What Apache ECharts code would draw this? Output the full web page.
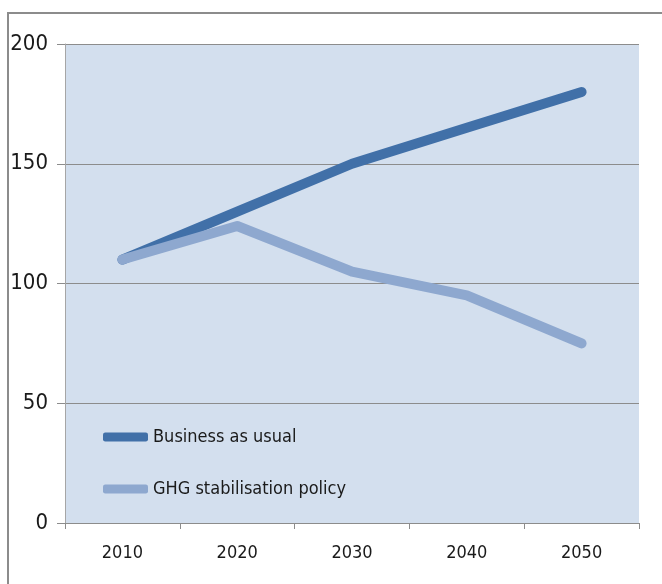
<!DOCTYPE html>
<html>
<head>
<meta charset="utf-8">
<script src="https://cdn.jsdelivr.net/npm/echarts@6/dist/echarts.min.js"></script>
<style>
  html, body { margin: 0; padding: 0; background: #ffffff; }
  #chart { width: 662px; height: 584px; }
</style>
</head>
<body>
<div id="chart"></div>
<script>
// Projection years and index values for the two scenarios
const years = ['2010', '2020', '2030', '2040', '2050'];
const businessAsUsual = [110, 130, 150, 165, 180];
const ghgStabilisation = [110, 124, 105, 95, 75];
const seriesNames = ['Business as usual', 'GHG stabilisation policy'];

const FONT = '"Liberation Sans Narrow", "DejaVu Sans Condensed", "Noto Sans", sans-serif';
const DARK = '#4170a8';
const LIGHT = '#8ea8cf';

const chart = echarts.init(document.getElementById('chart'));
chart.setOption({
  animation: false,
  backgroundColor: '#ffffff',
  graphic: [{
    type: 'rect',
    z: 100,
    shape: { x: 8, y: 13, width: 700, height: 700 },
    style: { fill: 'none', stroke: '#8c8c8c', lineWidth: 2 }
  }, {
    type: 'rect',
    z: -1,
    shape: { x: 66, y: 44, width: 573, height: 479 },
    style: { fill: '#d3dfee' }
  }],
  grid: { left: 65, right: 23, top: 44, bottom: 61 },
  legend: {
    orient: 'vertical',
    left: 103,
    top: 428,
    padding: 0,
    itemWidth: 45,
    itemHeight: 9,
    itemGap: 34,
    icon: 'roundRect',
    textStyle: { fontFamily: FONT, fontSize: 18, color: '#1a1a1a' },
    data: seriesNames
  },
  xAxis: {
    type: 'category',
    data: years,
    boundaryGap: true,
    axisLine: { lineStyle: { color: '#8c8c8c', width: 1 } },
    axisTick: { show: true, length: 6, lineStyle: { color: '#8c8c8c' } },
    axisLabel: { fontFamily: FONT, fontSize: 18, color: '#1a1a1a', margin: 21 }
  },
  yAxis: {
    type: 'value',
    min: 0,
    max: 200,
    interval: 50,
    axisLine: { show: true, lineStyle: { color: '#a6a6a6' } },
    axisTick: { show: true, length: 8, lineStyle: { color: '#8c8c8c' } },
    splitLine: { lineStyle: { color: '#8c8c8c', width: 1 } },
    axisLabel: { fontFamily: FONT, fontSize: 22, color: '#1a1a1a', margin: 17 }
  },
  series: [{
    name: seriesNames[0],
    type: 'line',
    data: businessAsUsual,
    symbol: 'none',
    color: DARK,
    lineStyle: { width: 10, color: DARK, cap: 'round', join: 'round' }
  }, {
    name: seriesNames[1],
    type: 'line',
    data: ghgStabilisation,
    symbol: 'none',
    color: LIGHT,
    lineStyle: { width: 10, color: LIGHT, cap: 'round', join: 'round' }
  }]
});
</script>
</body>
</html>
